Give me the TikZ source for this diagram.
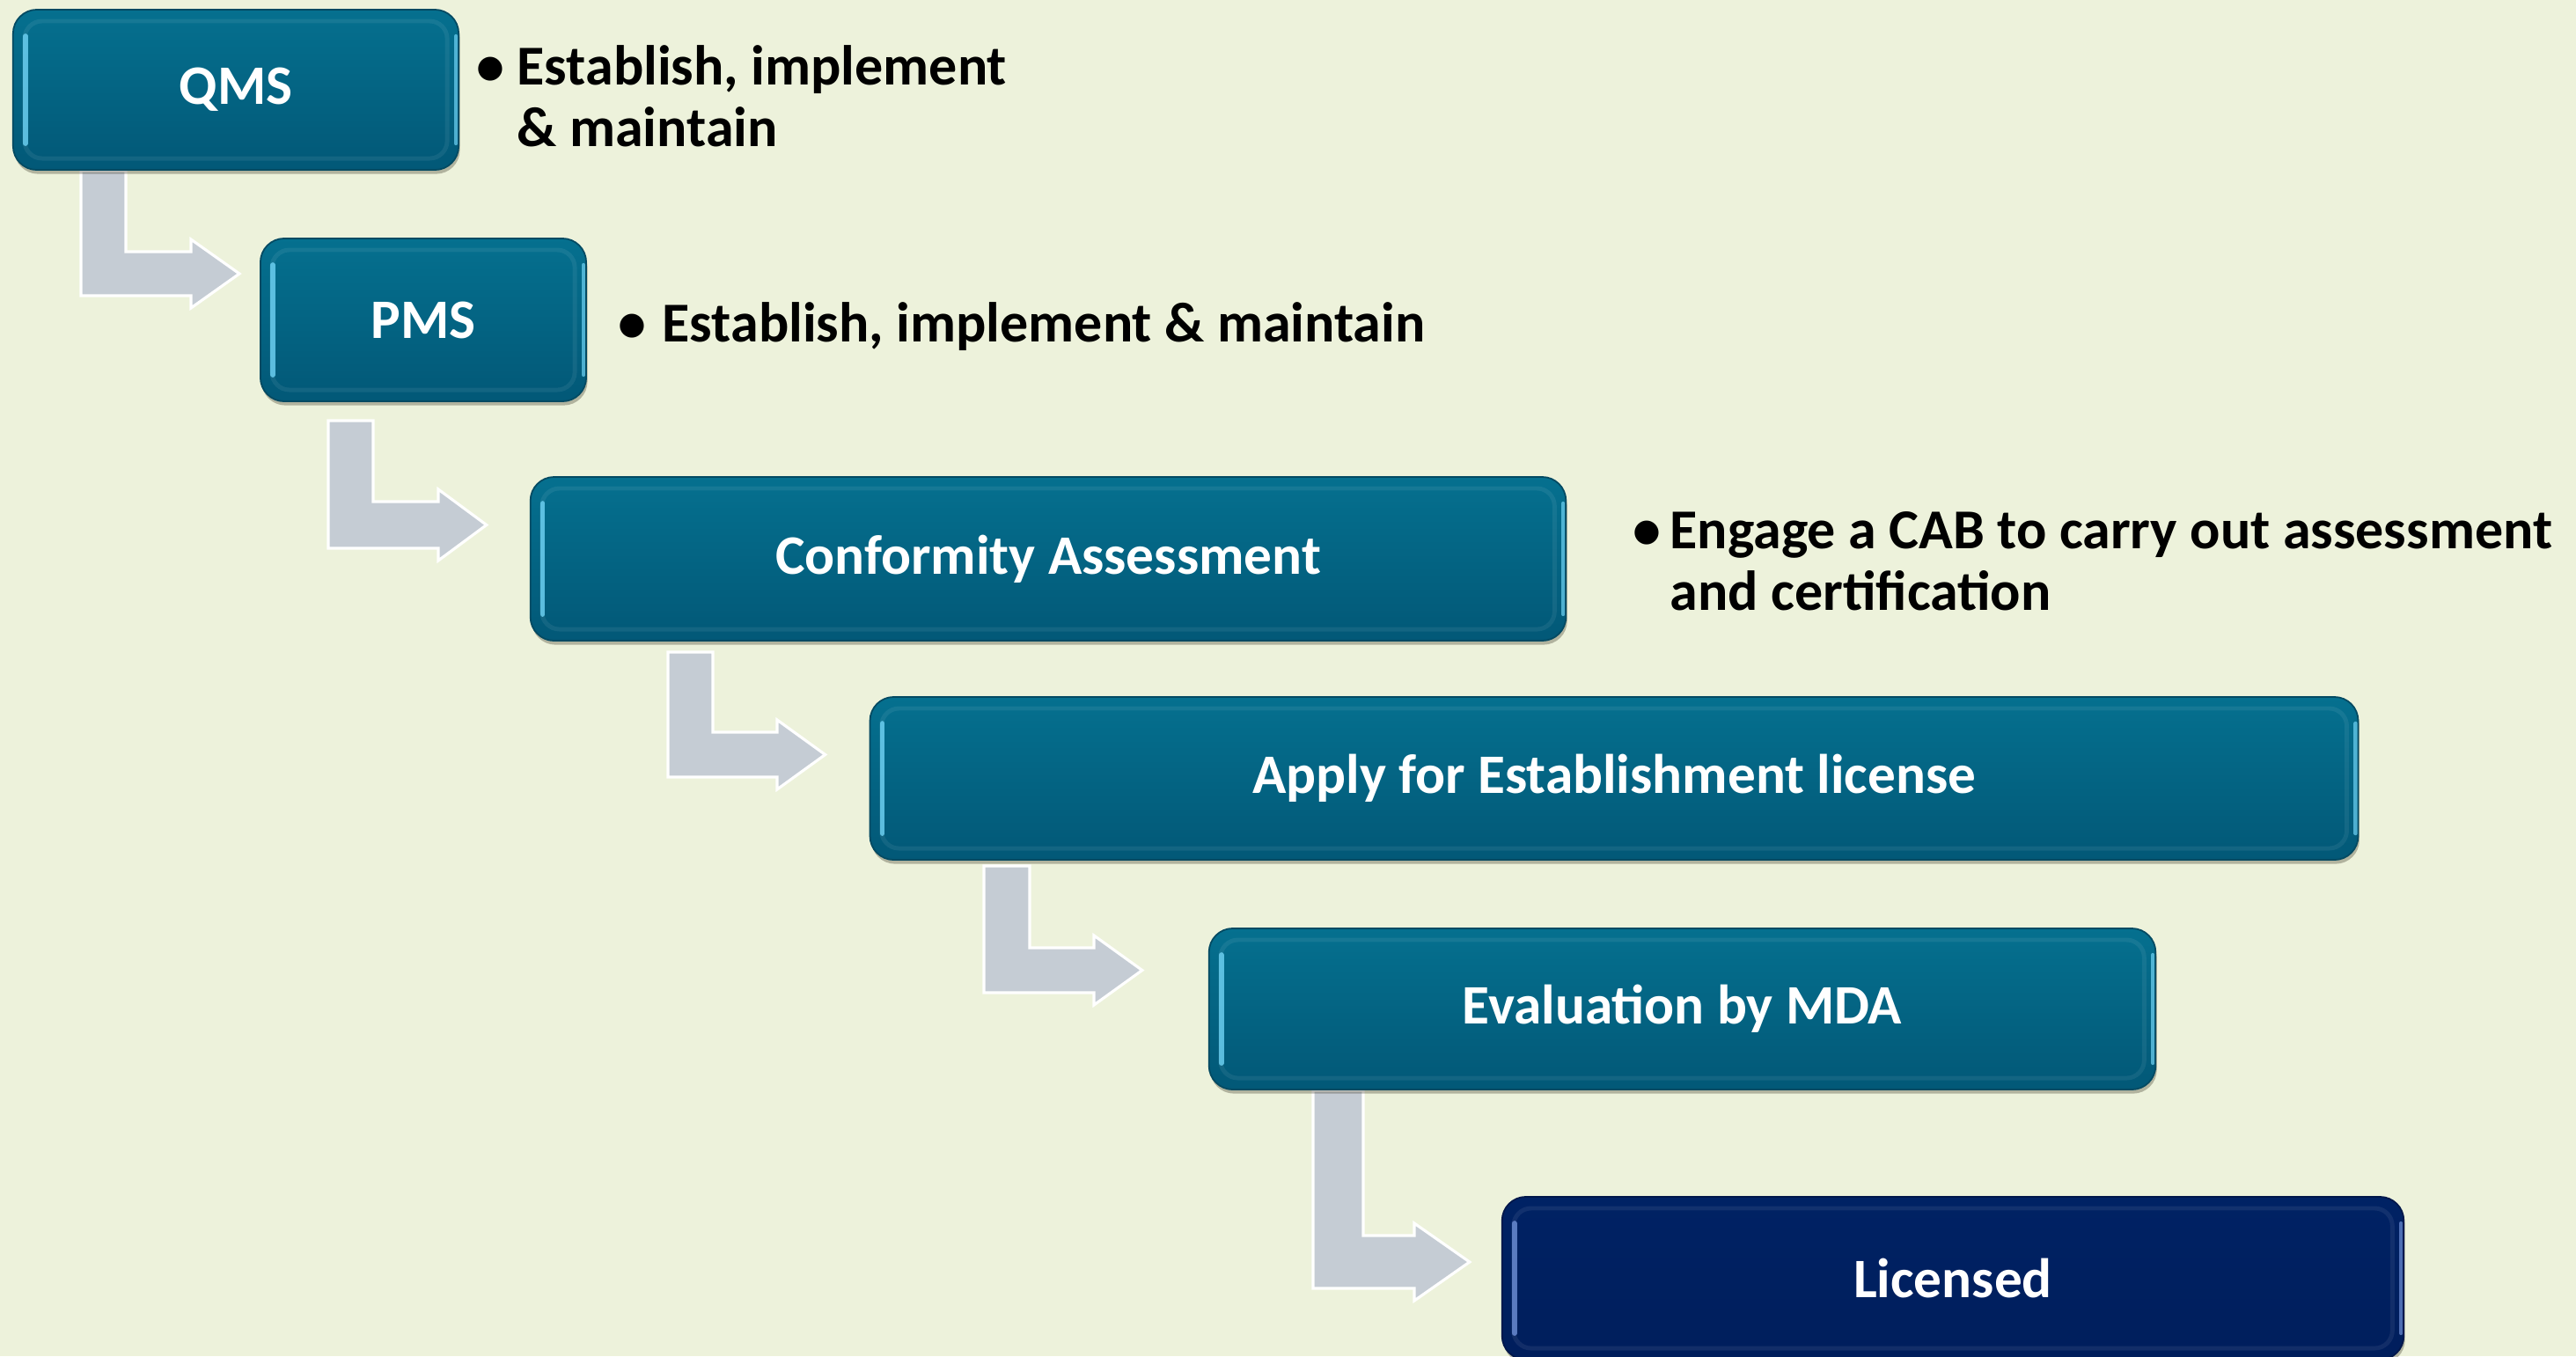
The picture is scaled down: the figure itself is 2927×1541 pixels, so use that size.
\documentclass[tikz,border=0pt]{standalone}
\usepackage{fontspec}
\setmainfont{Carlito}
\usetikzlibrary{calc,shadows}
\definecolor{bgc}{HTML}{EDF2DB}
\definecolor{tealtop}{HTML}{05708F}
\definecolor{tealbot}{HTML}{025877}
\definecolor{tealdk}{HTML}{034A62}
\definecolor{tealhi}{HTML}{6FD3F5}
\definecolor{navytop}{HTML}{002264}
\definecolor{navybot}{HTML}{001E5C}
\definecolor{navydk}{HTML}{00174A}
\definecolor{navyhi}{HTML}{6E8FD6}
\definecolor{arrgray}{HTML}{C5CCD4}
\pgfdeclarelayer{bg}
\pgfdeclarelayer{arr}
\pgfsetlayers{bg,arr,main}
\tikzset{
  bevel/.style={path picture={
    \draw[white, opacity=0.07, line width=1.4pt, rounded corners=0.2cm]
      ([shift={(0.13cm,-0.13cm)}]path picture bounding box.north west) rectangle
      ([shift={(-0.13cm,0.13cm)}]path picture bounding box.south east);
    \draw[#1, opacity=0.8, line width=1.6pt, line cap=round]
      ([shift={(0.14cm,-0.3cm)}]path picture bounding box.north west) --
      ([shift={(0.14cm,0.3cm)}]path picture bounding box.south west);
    \draw[#1, opacity=0.7, line width=1.2pt, line cap=round]
      ([shift={(-0.03cm,-0.3cm)}]path picture bounding box.north east) --
      ([shift={(-0.03cm,0.3cm)}]path picture bounding box.south east);
  }},
  boxbase/.style={rectangle, rounded corners=0.27cm, line width=0.5pt,
    text=white, inner sep=0pt,
    font=\fontsize{18}{20}\selectfont\bfseries,
    drop shadow={opacity=0.35, shadow xshift=0.4pt, shadow yshift=-1.3pt, fill=black!70!olive}},
  tbox/.style={boxbase, top color=tealtop, bottom color=tealbot, draw=tealdk, bevel=tealhi},
  nbox/.style={boxbase, top color=navytop, bottom color=navybot, draw=navydk, bevel=navyhi},
  btxt/.style={align=left, inner sep=0pt, text=black,
    font=\fontsize{18.2}{19.8}\selectfont\bfseries},
  bentstyle/.style={fill=arrgray, draw=white, line width=0.9pt, line join=miter}
}
\newcommand\bentarr[9]{%
  \path (#1.south) ++(0,#5) coordinate (bt#1);
  \path (#2.west) ++(-#9,0) coordinate (tp#2);
  \begin{pgfonlayer}{arr}
  \draw[bentstyle] (#3,0 |- bt#1) -- (#4,0 |- bt#1) -- (#4,#6) -- (#8,#6)
     -- (#8,#6-14) -- (tp#2 |- 0,{(#6+#7)/2}) -- (#8,#7+14) -- (#8,#7)
     -- (#3,#7) -- cycle;
  \end{pgfonlayer}}
\begin{document}
\begin{tikzpicture}[x=0.01cm,y=-0.01cm]
\begin{pgfonlayer}{bg}
\fill[bgc] (0,0) rectangle (2927,1541);
\end{pgfonlayer}
\useasboundingbox (0,0) rectangle (2927,1541);

\node[tbox, minimum width=5.06cm, minimum height=1.82cm] (qms) at (268,102) {QMS};
\node[tbox, minimum width=3.70cm, minimum height=1.85cm] (pms) at (481,363.5) {PMS};
\node[tbox, minimum width=11.76cm, minimum height=1.86cm] (conf) at (1191,635) {Conformity Assessment};
\node[tbox, minimum width=16.90cm, minimum height=1.85cm] (apply) at (1834,884.5) {Apply for Establishment license};
\node[tbox, minimum width=10.75cm, minimum height=1.83cm] (eval) at (1911.5,1146.5) {Evaluation by MDA};
\node[nbox, minimum width=10.24cm, minimum height=1.85cm] (lic) at (2219,1452.5) {Licensed};

\node[btxt, anchor=base west] (tqms) at (541,166)
  {\makebox[0.46cm][l]{•}Establish, implement\\\hspace*{0.46cm}\& maintain};
\node[btxt, anchor=base west] (tpms) at (702,388)
  {\makebox[0.50cm][l]{•}Establish, implement \& maintain};
\node[btxt, anchor=base west] (tconf) at (1855,693)
  {\makebox[0.42cm][l]{•}Engage a CAB to carry out assessment\\\hspace*{0.42cm}and certification};

\bentarr{qms}{pms}{92}{143}{0}{286}{336}{217}{23}
\bentarr{pms}{conf}{373}{424}{21}{570}{623}{498}{49}
\bentarr{conf}{apply}{759}{810}{12}{832}{883}{883}{50}
\bentarr{apply}{eval}{1118}{1170}{6}{1077}{1128}{1243}{75}
\bentarr{eval}{lic}{1492}{1549}{0}{1404}{1464}{1607}{36}
\end{tikzpicture}
\end{document}
